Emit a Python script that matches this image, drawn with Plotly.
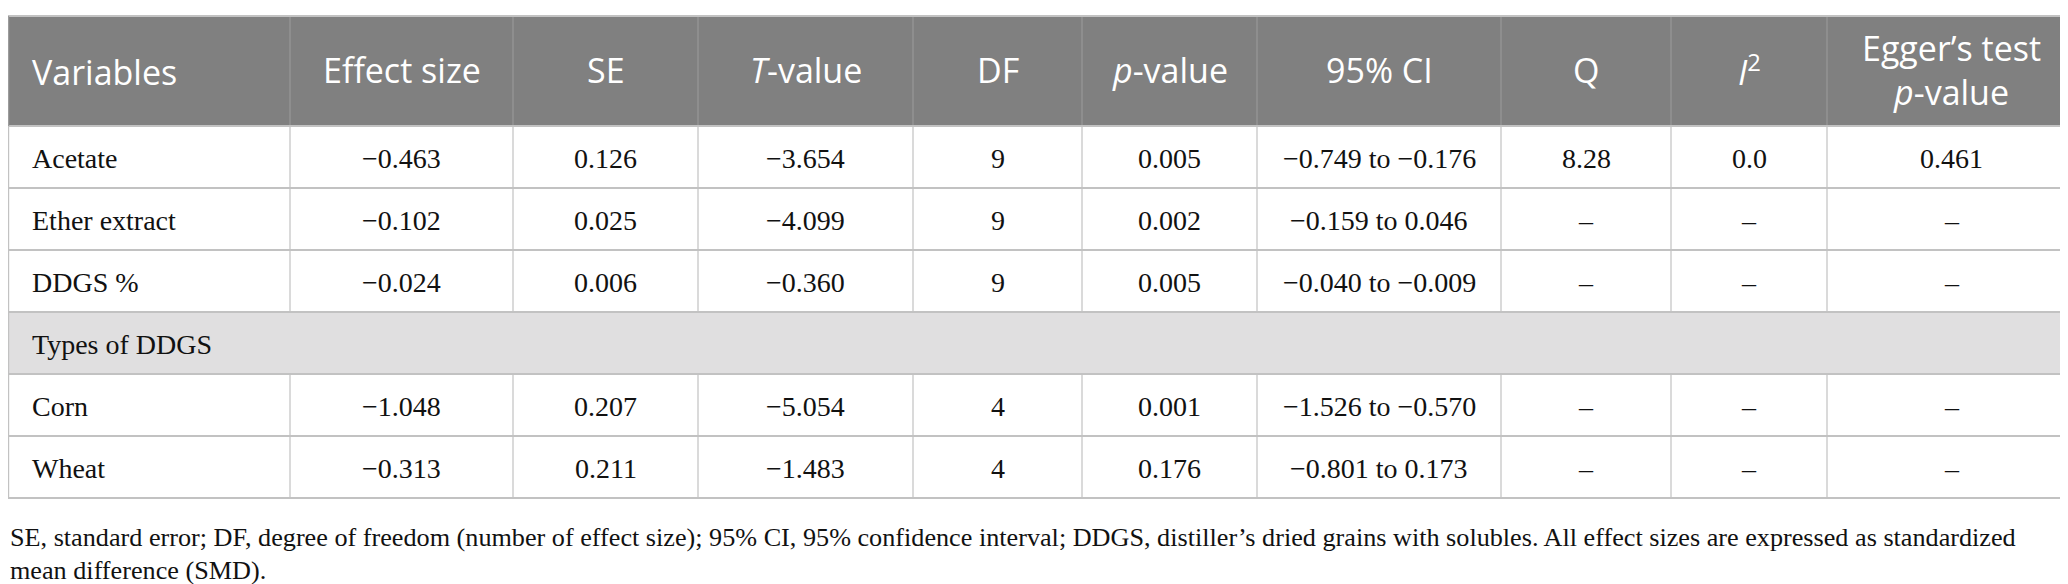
import plotly.graph_objects as go

# ---------------- data ----------------
headers = ["Variables", "Effect size", "SE", "<i>T</i>-value", "DF", "<i>p</i>-value",
           "95% CI", "Q", "<i>I</i><sup>2</sup>", "Egger\u2019s test<br><i>p</i>-value"]
variables = ["Acetate", "Ether extract", "DDGS %", "Types of DDGS", "Corn", "Wheat"]
is_section = [False, False, False, True, False, False]
effect_size = [-0.463, -0.102, -0.024, None, -1.048, -0.313]
se = [0.126, 0.025, 0.006, None, 0.207, 0.211]
t_value = [-3.654, -4.099, -0.360, None, -5.054, -1.483]
df = [9, 9, 9, None, 4, 4]
p_value = [0.005, 0.002, 0.005, None, 0.001, 0.176]
ci_low = [-0.749, -0.159, -0.040, None, -1.526, -0.801]
ci_high = [-0.176, 0.046, -0.009, None, -0.570, 0.173]
q_stat = [8.28, None, None, None, None, None]
i2 = [0.0, None, None, None, None, None]
egger_p = [0.461, None, None, None, None, None]
footnote_lines = [
    "SE, standard error; DF, degree of freedom (number of effect size); 95% CI, 95% confidence interval; "
    "DDGS, distiller\u2019s dried grains with solubles. All effect sizes are expressed as standardized",
    "mean difference (SMD).",
]

# ---------------- layout constants ----------------
W, H = 2068, 584
col_edges = [0, 282, 505, 690, 905, 1074, 1249, 1493, 1663, 1819, 2068]
top = 8
header_h = 110
row_h = 62
pad_left = 22
HEADER_BG = "#808080"
SECTION_BG = "#e0dfe0"
GRID = "#c2c2c2"
HEAD_GRID = "#9c9c9c"
TXT = "#111111"
SANS = "'Open Sans', 'Noto Sans', sans-serif"
SERIF = "'Liberation Serif', 'DejaVu Serif', serif"
HEAD_SIZE = 34
BODY_SIZE = 28
FOOT_SIZE = 26.2


def fmt(v, nd):
    if v is None:
        return "\u2013"
    s = f"{abs(v):.{nd}f}"
    return ("\u2212" + s) if v < 0 else s


def fmt_ci(lo, hi):
    return f"{fmt(lo, 3)} to {fmt(hi, 3)}"


rows = []
for i in range(len(variables)):
    if is_section[i]:
        rows.append(None)
        continue
    rows.append([
        variables[i], fmt(effect_size[i], 3), fmt(se[i], 3), fmt(t_value[i], 3),
        str(df[i]), fmt(p_value[i], 3), fmt_ci(ci_low[i], ci_high[i]),
        fmt(q_stat[i], 2), fmt(i2[i], 1), fmt(egger_p[i], 3),
    ])

fig = go.Figure()
fig.add_trace(go.Scatter(x=[0, W], y=[0, H], mode="markers",
                         marker=dict(opacity=0), hoverinfo="skip", showlegend=False))

shapes = []
annotations = []
ncols = len(col_edges) - 1
left, right = col_edges[0], col_edges[-1]

# header background
shapes.append(dict(type="rect", xref="x", yref="y", x0=left, x1=right, y0=top, y1=top + header_h,
                   fillcolor=HEADER_BG, line=dict(width=0), layer="below"))
hmid = top + header_h / 2 + 1
for c in range(ncols):
    cx = (col_edges[c] + col_edges[c + 1]) / 2
    if c == 0:
        annotations.append(dict(x=col_edges[0] + pad_left, y=hmid, xref="x", yref="y",
                                text=headers[c], showarrow=False, xanchor="left", yanchor="middle",
                                font=dict(family=SANS, size=HEAD_SIZE, color="white")))
    else:
        annotations.append(dict(x=cx, y=hmid - 2, xref="x", yref="y",
                                text=headers[c], showarrow=False, xanchor="center", yanchor="middle",
                                align="center",
                                font=dict(family=SANS, size=HEAD_SIZE, color="white")))
# header vertical separators
for c in range(1, ncols):
    shapes.append(dict(type="line", xref="x", yref="y", x0=col_edges[c], x1=col_edges[c],
                       y0=top, y1=top + header_h, line=dict(color=HEAD_GRID, width=1)))

# body rows
y0 = top + header_h
row_bounds = []
for r, row in enumerate(rows):
    ya, yb = y0 + r * row_h, y0 + (r + 1) * row_h
    row_bounds.append((ya, yb))
    ym = (ya + yb) / 2 + 1
    if row is None:
        shapes.append(dict(type="rect", xref="x", yref="y", x0=left, x1=right, y0=ya, y1=yb,
                           fillcolor=SECTION_BG, line=dict(width=0), layer="below"))
        annotations.append(dict(x=col_edges[0] + pad_left, y=ym, xref="x", yref="y",
                                text=variables[r], showarrow=False, xanchor="left", yanchor="middle",
                                font=dict(family=SERIF, size=BODY_SIZE, color=TXT)))
        continue
    for c in range(ncols):
        if c == 0:
            annotations.append(dict(x=col_edges[0] + pad_left, y=ym, xref="x", yref="y",
                                    text=row[c], showarrow=False, xanchor="left", yanchor="middle",
                                    font=dict(family=SERIF, size=BODY_SIZE, color=TXT)))
        else:
            annotations.append(dict(x=(col_edges[c] + col_edges[c + 1]) / 2, y=ym, xref="x", yref="y",
                                    text=row[c], showarrow=False, xanchor="center", yanchor="middle",
                                    font=dict(family=SERIF, size=BODY_SIZE, color=TXT)))
    for c in range(1, ncols):
        shapes.append(dict(type="line", xref="x", yref="y", x0=col_edges[c], x1=col_edges[c],
                           y0=ya, y1=yb, line=dict(color=GRID, width=1.2)))

# horizontal rules
hy = [top, top + header_h] + [b for _, b in row_bounds]
for yv in hy:
    shapes.append(dict(type="line", xref="x", yref="y", x0=left, x1=right, y0=yv, y1=yv,
                       line=dict(color=GRID, width=2)))
# outer left vertical
body_bottom = row_bounds[-1][1]
shapes.append(dict(type="line", xref="x", yref="y", x0=left + 0.6, x1=left + 0.6,
                   y0=top + header_h, y1=body_bottom, line=dict(color=GRID, width=1.2)))
shapes.append(dict(type="line", xref="x", yref="y", x0=left + 0.6, x1=left + 0.6,
                   y0=top, y1=top + header_h, line=dict(color=HEAD_GRID, width=1.2)))

# footnote
foot_y = [body_bottom + 39, body_bottom + 72]
for k, line in enumerate(footnote_lines):
    annotations.append(dict(x=0, y=foot_y[k], xref="x", yref="y", text=line, showarrow=False,
                            xanchor="left", yanchor="middle",
                            font=dict(family=SERIF, size=FOOT_SIZE, color=TXT)))

fig.update_layout(
    width=W, height=H, margin=dict(l=0, r=0, t=0, b=0),
    paper_bgcolor="white", plot_bgcolor="white",
    xaxis=dict(range=[0, W], visible=False, fixedrange=True),
    yaxis=dict(range=[H, 0], visible=False, fixedrange=True),
    shapes=shapes, annotations=annotations, showlegend=False,
)
fig.write_html("out.html")
